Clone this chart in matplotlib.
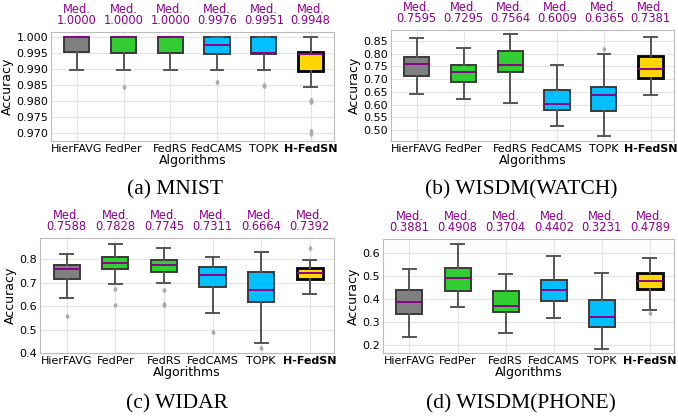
import matplotlib
matplotlib.use('Agg')
import matplotlib.pyplot as plt
from matplotlib.ticker import FormatStrFormatter

# Algorithms and box colours
algorithms = ['HierFAVG', 'FedPer', 'FedRS', 'FedCAMS', 'TOPK', 'H-FedSN']
box_colors = ['#808080', '#32CD32', '#32CD32', '#00BFFF', '#00BFFF', '#FFD700']

# MNIST
mnist_med = [1.0000, 1.0000, 1.0000, 0.9976, 0.9951, 0.9948]
mnist_q1 = [0.9952, 0.9950, 0.9950, 0.9948, 0.9948, 0.9895]
mnist_q3 = [1.0000, 1.0000, 1.0000, 1.0000, 1.0000, 0.9953]
mnist_lo = [0.9897, 0.9897, 0.9897, 0.9897, 0.9897, 0.9845]
mnist_hi = [1.0000, 1.0000, 1.0000, 1.0000, 1.0000, 1.0000]
mnist_fl = [[], [0.9845], [], [0.9860], [0.9850, 0.9848],
            [0.9803, 0.9800, 0.9797, 0.9705, 0.9695]]

# WISDM(WATCH)
watch_med = [0.7595, 0.7295, 0.7564, 0.6009, 0.6365, 0.7381]
watch_q1 = [0.713, 0.690, 0.726, 0.579, 0.577, 0.705]
watch_q3 = [0.785, 0.756, 0.808, 0.657, 0.668, 0.790]
watch_lo = [0.640, 0.623, 0.608, 0.518, 0.478, 0.639]
watch_hi = [0.859, 0.821, 0.875, 0.755, 0.797, 0.863]
watch_fl = [[], [], [], [], [0.816], []]

# WIDAR
widar_med = [0.7588, 0.7828, 0.7745, 0.7311, 0.6664, 0.7392]
widar_q1 = [0.716, 0.757, 0.747, 0.680, 0.619, 0.717]
widar_q3 = [0.773, 0.807, 0.797, 0.766, 0.746, 0.763]
widar_lo = [0.633, 0.696, 0.700, 0.571, 0.444, 0.651]
widar_hi = [0.821, 0.864, 0.847, 0.810, 0.829, 0.796]
widar_fl = [[0.559], [0.674, 0.606], [0.667, 0.608, 0.604], [0.490], [0.421], [0.847]]

# WISDM(PHONE)
phone_med = [0.3881, 0.4908, 0.3704, 0.4402, 0.3231, 0.4789]
phone_q1 = [0.333, 0.435, 0.345, 0.392, 0.280, 0.443]
phone_q3 = [0.437, 0.534, 0.435, 0.484, 0.397, 0.512]
phone_lo = [0.234, 0.365, 0.251, 0.316, 0.184, 0.350]
phone_hi = [0.530, 0.639, 0.508, 0.587, 0.515, 0.578]
phone_fl = [[], [], [], [], [], [0.337]]

W, H = 678, 419


def rect(l, r, t, b):
    return [l / W, 1 - b / H, (r - l) / W, (b - t) / H]


def draw_panel(ax, med, q1, q3, lo, hi, fl, ylim, yticks, fmt, caption, cap_xy):
    stats = []
    for i in range(len(algorithms)):
        stats.append({'med': med[i], 'q1': q1[i], 'q3': q3[i],
                      'whislo': lo[i], 'whishi': hi[i], 'fliers': fl[i]})
    pos = list(range(1, len(algorithms) + 1))
    bp = ax.bxp(stats, positions=pos, widths=0.54, patch_artist=True,
                boxprops=dict(linewidth=1.4),
                whiskerprops=dict(color='#555555', linewidth=1.4),
                capprops=dict(color='#555555', linewidth=1.4),
                medianprops=dict(color='#8B008B', linewidth=1.4),
                flierprops=dict(marker='d', markersize=2.2, markerfacecolor='#aaaaaa',
                                markeredgecolor='#aaaaaa', linestyle='none'))
    for i, box in enumerate(bp['boxes']):
        box.set_facecolor(box_colors[i])
        if algorithms[i] == 'H-FedSN':
            box.set_edgecolor('black')
            box.set_linewidth(2.0)
        else:
            box.set_edgecolor('#3a3a3a')
    for i in range(len(algorithms)):
        ax.annotate('Med.\n%.4f' % med[i], xy=(pos[i], 1.0), xycoords=('data', 'axes fraction'),
                    xytext=(0, 3.5), textcoords='offset points', ha='center', va='bottom',
                    fontsize=8.3, color='#8B008B', linespacing=0.8)
    ax.set_xlim(0.45, 6.5)
    ax.set_ylim(*ylim)
    ax.set_yticks(yticks)
    ax.yaxis.set_major_formatter(FormatStrFormatter(fmt))
    ax.set_xticks(pos)
    ax.set_xticklabels(algorithms)
    ax.get_xticklabels()[-1].set_fontweight('bold')
    ax.tick_params(length=0, pad=2, labelsize=8)
    ax.set_xlabel('Algorithms', fontsize=9, labelpad=0)
    ax.set_ylabel('Accuracy', fontsize=9, labelpad=2)
    ax.grid(True, color='#e3e3e3', linewidth=0.8)
    ax.set_axisbelow(True)
    for s in ax.spines.values():
        s.set_color('#bbbbbb')
    fig.text(cap_xy[0] / W, 1 - cap_xy[1] / H, caption, ha='center', va='center',
             fontsize=15.5, family='Liberation Serif')


fig = plt.figure(figsize=(6.78, 4.19), dpi=100)

ax1 = fig.add_axes(rect(51, 334, 32, 141))
draw_panel(ax1, mnist_med, mnist_q1, mnist_q3, mnist_lo, mnist_hi, mnist_fl,
           (0.9674, 1.0016), [0.970, 0.975, 0.980, 0.985, 0.990, 0.995, 1.000], '%.3f',
           '(a) MNIST', (175, 190))

ax2 = fig.add_axes(rect(391, 674, 30, 141))
draw_panel(ax2, watch_med, watch_q1, watch_q3, watch_lo, watch_hi, watch_fl,
           (0.458, 0.892), [0.50, 0.55, 0.60, 0.65, 0.70, 0.75, 0.80, 0.85], '%.2f',
           '(b) WISDM(WATCH)', (521, 190))

ax3 = fig.add_axes(rect(40, 334, 238, 353))
draw_panel(ax3, widar_med, widar_q1, widar_q3, widar_lo, widar_hi, widar_fl,
           (0.40, 0.89), [0.4, 0.5, 0.6, 0.7, 0.8], '%.1f',
           '(c) WIDAR', (177, 404))

ax4 = fig.add_axes(rect(383, 674, 239, 353))
draw_panel(ax4, phone_med, phone_q1, phone_q3, phone_lo, phone_hi, phone_fl,
           (0.165, 0.661), [0.2, 0.3, 0.4, 0.5, 0.6], '%.1f',
           '(d) WISDM(PHONE)', (521, 404))

fig.savefig('out.png', dpi=100)
